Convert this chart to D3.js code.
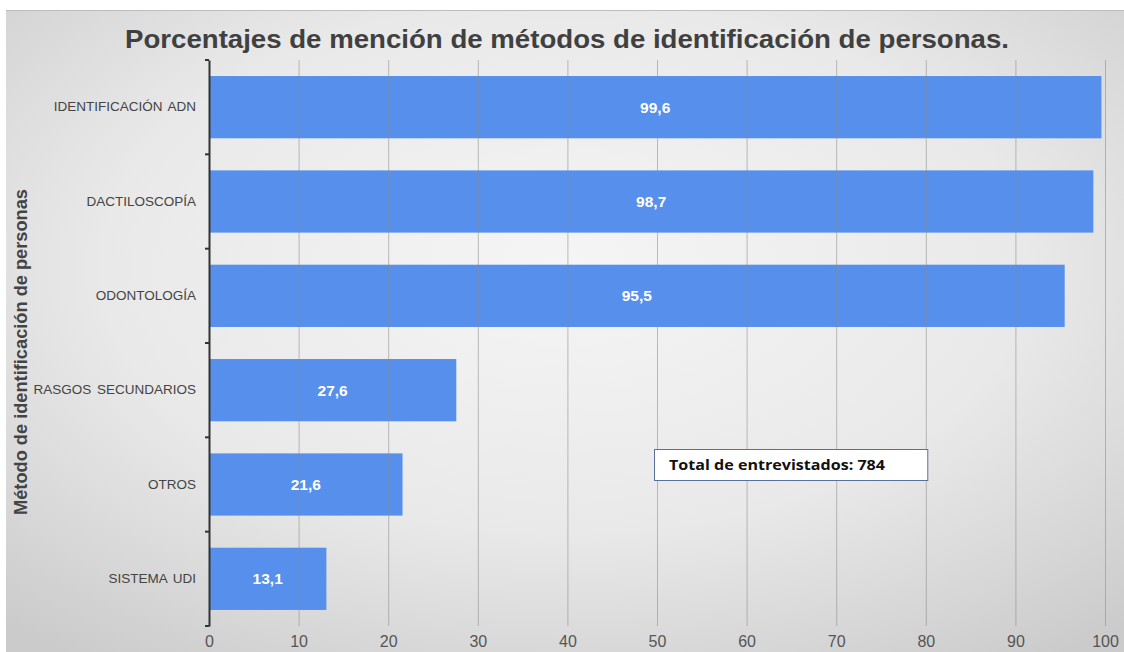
<!DOCTYPE html>
<html>
<head>
<meta charset="utf-8">
<script src="https://cdn.jsdelivr.net/npm/d3@7"></script>
<style>
  html, body { margin: 0; padding: 0; background: #ffffff; }
  svg { display: block; }
</style>
</head>
<body>
<svg id="chart" width="1124" height="652"></svg>
<script>
const categories = ["IDENTIFICACIÓN ADN", "DACTILOSCOPÍA", "ODONTOLOGÍA", "RASGOS SECUNDARIOS", "OTROS", "SISTEMA UDI"];
const values = [99.6, 98.7, 95.5, 27.6, 21.6, 13.1];
const xTicks = [0, 10, 20, 30, 40, 50, 60, 70, 80, 90, 100];
const titleText = "Porcentajes de mención de métodos de identificación de personas.";
const yTitle = "Método de identificación de personas";
const noteText = "Total de entrevistados: 784";
const noteValueX = [50, 80.5];

const svg = d3.select("#chart");
const W = 1124, H = 652;

// background panel with radial gradient
const defs = svg.append("defs");
const grad = defs.append("radialGradient").attr("id", "bg")
  .attr("cx", "50%").attr("cy", "40%").attr("r", "75%");
grad.append("stop").attr("offset", "0%").attr("stop-color", "#f5f5f5");
grad.append("stop").attr("offset", "55%").attr("stop-color", "#e9e9e9");
grad.append("stop").attr("offset", "100%").attr("stop-color", "#cbcbcb");

svg.append("rect").attr("x", 6).attr("y", 10).attr("width", W - 6).attr("height", H - 10)
  .attr("fill", "url(#bg)");
svg.append("line").attr("x1", 6).attr("x2", W).attr("y1", 10.5).attr("y2", 10.5)
  .attr("stroke", "#bdbdbd").attr("stroke-width", 1);

const x = d3.scaleLinear().domain([0, 100]).range([209, 1105]);
const y = d3.scaleBand().domain(categories).range([60, 626]).paddingInner(0.34).paddingOuter(0.17);
const yb = d3.scaleBand().domain(categories).range([60, 626]);

// bars
svg.append("g").selectAll("rect").data(categories).join("rect")
  .attr("x", x(0))
  .attr("y", d => y(d))
  .attr("width", (d, i) => x(values[i]) - x(0))
  .attr("height", y.bandwidth())
  .attr("fill", "#5690ec");

// gridlines (drawn over bars, semi-transparent)
svg.append("g").selectAll("line").data(xTicks.filter(t => t > 0)).join("line")
  .attr("x1", d => x(d) + 0.5).attr("x2", d => x(d) + 0.5)
  .attr("y1", 60).attr("y2", 626)
  .attr("stroke", "#8a8a8a").attr("stroke-opacity", 0.55).attr("stroke-width", 1);

// x axis labels
const xAxis = d3.axisBottom(x).tickValues(xTicks).tickSize(0).tickPadding(0).tickFormat(d3.format("d"));
const gx = svg.append("g").attr("transform", "translate(0,635)").call(xAxis);
gx.select(".domain").remove();
gx.selectAll("text").attr("font-family", "Liberation Sans, Arial, sans-serif")
  .attr("font-size", 16).attr("fill", "#555").attr("dy", "0.75em");

// y axis
const yAxis = d3.axisLeft(yb).tickSize(0).tickPadding(13);
const gy = svg.append("g").attr("transform", `translate(${x(0)},0)`).call(yAxis);
gy.select(".domain").attr("stroke", "#333").attr("stroke-width", 2);
gy.selectAll("text").attr("font-family", "Liberation Sans, Arial, sans-serif")
  .attr("font-size", 13.5).attr("fill", "#444").attr("word-spacing", "2px");
// boundary ticks
const bounds = categories.map(c => yb(c)).concat([626]);
svg.append("g").selectAll("line").data(bounds).join("line")
  .attr("x1", x(0) - 4).attr("x2", x(0))
  .attr("y1", d => d).attr("y2", d => d)
  .attr("stroke", "#333").attr("stroke-width", 2);

// value labels
svg.append("g").selectAll("text").data(categories).join("text")
  .attr("x", (d, i) => x(values[i] / 2))
  .attr("y", d => y(d) + y.bandwidth() / 2)
  .attr("dy", "0.36em")
  .attr("text-anchor", "middle")
  .attr("font-family", "Liberation Sans, Arial, sans-serif")
  .attr("font-weight", "bold").attr("font-size", 15.5).attr("fill", "#ffffff")
  .text((d, i) => d3.format(".1f")(values[i]).replace(".", ","));

// title
svg.append("text").attr("x", 567).attr("y", 48).attr("text-anchor", "middle")
  .attr("font-family", "Liberation Sans, Arial, sans-serif").attr("font-weight", "bold")
  .attr("font-size", 26).attr("fill", "#404040")
  .attr("textLength", 884).attr("lengthAdjust", "spacingAndGlyphs")
  .text(titleText);

// y axis title
svg.append("text").attr("transform", "translate(27,352) rotate(-90)")
  .attr("text-anchor", "middle")
  .attr("font-family", "Liberation Sans, Arial, sans-serif").attr("font-weight", "bold")
  .attr("font-size", 19).attr("fill", "#444")
  .attr("textLength", 326).attr("lengthAdjust", "spacingAndGlyphs")
  .text(yTitle);

// note box
const nb = svg.append("g");
nb.append("rect").attr("x", x(noteValueX[0]) - 2.5).attr("y", 449.5)
  .attr("width", x(noteValueX[1]) - x(noteValueX[0])).attr("height", 31)
  .attr("fill", "#ffffff").attr("stroke", "#5b6f9c").attr("stroke-width", 1);
nb.append("text").attr("x", x(noteValueX[0]) + 12).attr("y", 470)
  .attr("font-family", "Open Sans, Liberation Sans, Arial, sans-serif").attr("font-weight", "bold")
  .attr("font-size", 14).attr("fill", "#111")
  .attr("textLength", 216).attr("lengthAdjust", "spacingAndGlyphs")
  .text(noteText);
</script>
</body>
</html>
